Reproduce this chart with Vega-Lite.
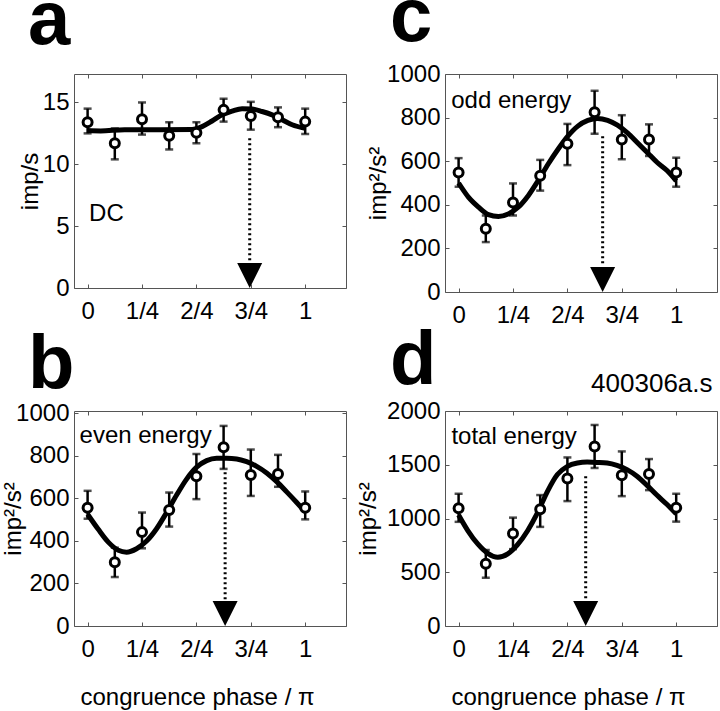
{
  "$schema": "https://vega.github.io/schema/vega-lite/v6.json",
  "padding": {"top": -21, "left": 0, "right": 0, "bottom": 0},
  "background": "white",
  "config": {
    "font": "Liberation Sans",
    "view": {"stroke": "#555", "strokeWidth": 1},
    "axis": {
      "labelFont": "Liberation Sans", "labelFontSize": 24, "labelColor": "black", "format": "d",
      "titleFont": "Liberation Sans", "titleFontSize": 24, "titleFontWeight": "normal", "titleColor": "black",
      "domain": false, "grid": false, "tickColor": "#555", "tickSize": -4, "labelPadding": 9
    },
    "axisX": {"labelPadding": 15},
    "title": {"font": "Liberation Sans", "fontSize": 76, "fontWeight": "bold", "anchor": "start", "frame": "group", "baseline": "alphabetic", "color": "black"}
  },
  "datasets": {
    "a_pts": [
      {"phase": 0, "y": 13.4, "lo": 12.5, "hi": 14.5},
      {"phase": 0.125, "y": 11.7, "lo": 10.4, "hi": 12.9},
      {"phase": 0.25, "y": 13.65, "lo": 12.4, "hi": 15.0},
      {"phase": 0.375, "y": 12.3, "lo": 11.2, "hi": 13.4},
      {"phase": 0.5, "y": 12.55, "lo": 11.7, "hi": 13.4},
      {"phase": 0.625, "y": 14.4, "lo": 13.45, "hi": 15.3},
      {"phase": 0.75, "y": 13.9, "lo": 12.8, "hi": 15.05},
      {"phase": 0.875, "y": 13.8, "lo": 13.0, "hi": 14.6},
      {"phase": 1, "y": 13.45, "lo": 12.45, "hi": 14.5}
    ],
    "a_fit": [
      {"phase": 0, "y": 12.73}, {"phase": 0.06, "y": 12.7}, {"phase": 0.17, "y": 12.8}, {"phase": 0.33, "y": 12.8},
      {"phase": 0.48, "y": 12.82}, {"phase": 0.526, "y": 13.05}, {"phase": 0.572, "y": 13.5}, {"phase": 0.618, "y": 14.0},
      {"phase": 0.664, "y": 14.3}, {"phase": 0.71, "y": 14.5}, {"phase": 0.756, "y": 14.47}, {"phase": 0.802, "y": 14.27},
      {"phase": 0.848, "y": 14.0}, {"phase": 0.894, "y": 13.6}, {"phase": 0.94, "y": 13.2}, {"phase": 1.0, "y": 12.92}
    ],
    "a_arrow": [{"phase": 0.745, "top": 12.1, "bottom": 2.0, "tip": 0}],
    "c_pts": [
      {"phase": 0, "y": 548, "lo": 483, "hi": 614},
      {"phase": 0.125, "y": 290, "lo": 229, "hi": 351},
      {"phase": 0.25, "y": 411, "lo": 351, "hi": 498},
      {"phase": 0.375, "y": 533, "lo": 465, "hi": 606},
      {"phase": 0.5, "y": 680, "lo": 582, "hi": 771},
      {"phase": 0.625, "y": 825, "lo": 726, "hi": 923},
      {"phase": 0.75, "y": 700, "lo": 609, "hi": 811},
      {"phase": 0.875, "y": 700, "lo": 624, "hi": 769},
      {"phase": 1, "y": 548, "lo": 483, "hi": 616}
    ],
    "c_fit": [
      {"phase": 0, "y": 500}, {"phase": 0.046, "y": 434}, {"phase": 0.092, "y": 389}, {"phase": 0.137, "y": 355},
      {"phase": 0.183, "y": 346}, {"phase": 0.228, "y": 358}, {"phase": 0.274, "y": 389}, {"phase": 0.32, "y": 442},
      {"phase": 0.365, "y": 510}, {"phase": 0.411, "y": 586}, {"phase": 0.457, "y": 655}, {"phase": 0.502, "y": 715},
      {"phase": 0.548, "y": 761}, {"phase": 0.594, "y": 787}, {"phase": 0.639, "y": 796}, {"phase": 0.685, "y": 787},
      {"phase": 0.73, "y": 765}, {"phase": 0.776, "y": 730}, {"phase": 0.822, "y": 685}, {"phase": 0.868, "y": 639},
      {"phase": 0.913, "y": 594}, {"phase": 0.959, "y": 556}, {"phase": 1.0, "y": 510}
    ],
    "c_arrow": [{"phase": 0.662, "top": 715, "bottom": 118, "tip": 0}],
    "b_pts": [
      {"phase": 0, "y": 556, "lo": 504, "hi": 635},
      {"phase": 0.125, "y": 299, "lo": 230, "hi": 368},
      {"phase": 0.25, "y": 441, "lo": 365, "hi": 533},
      {"phase": 0.375, "y": 545, "lo": 467, "hi": 627},
      {"phase": 0.5, "y": 703, "lo": 596, "hi": 808},
      {"phase": 0.625, "y": 840, "lo": 738, "hi": 940},
      {"phase": 0.75, "y": 709, "lo": 611, "hi": 829},
      {"phase": 0.875, "y": 714, "lo": 654, "hi": 804},
      {"phase": 1, "y": 556, "lo": 501, "hi": 632}
    ],
    "b_fit": [
      {"phase": 0, "y": 525}, {"phase": 0.049, "y": 454}, {"phase": 0.095, "y": 394}, {"phase": 0.141, "y": 356},
      {"phase": 0.179, "y": 347}, {"phase": 0.225, "y": 363}, {"phase": 0.271, "y": 399}, {"phase": 0.317, "y": 457},
      {"phase": 0.363, "y": 533}, {"phase": 0.409, "y": 615}, {"phase": 0.455, "y": 690}, {"phase": 0.501, "y": 746},
      {"phase": 0.547, "y": 777}, {"phase": 0.593, "y": 788}, {"phase": 0.639, "y": 788}, {"phase": 0.685, "y": 785},
      {"phase": 0.731, "y": 772}, {"phase": 0.777, "y": 750}, {"phase": 0.823, "y": 719}, {"phase": 0.869, "y": 678},
      {"phase": 0.915, "y": 630}, {"phase": 0.961, "y": 580}, {"phase": 1.0, "y": 536}
    ],
    "b_arrow": [{"phase": 0.632, "top": 722, "bottom": 120, "tip": 0}],
    "d_pts": [
      {"phase": 0, "y": 1095, "lo": 969, "hi": 1230},
      {"phase": 0.125, "y": 578, "lo": 449, "hi": 707},
      {"phase": 0.25, "y": 861, "lo": 715, "hi": 1008},
      {"phase": 0.375, "y": 1085, "lo": 922, "hi": 1218},
      {"phase": 0.5, "y": 1372, "lo": 1162, "hi": 1568},
      {"phase": 0.625, "y": 1670, "lo": 1470, "hi": 1870},
      {"phase": 0.75, "y": 1402, "lo": 1208, "hi": 1624},
      {"phase": 0.875, "y": 1414, "lo": 1264, "hi": 1553},
      {"phase": 1, "y": 1101, "lo": 971, "hi": 1230}
    ],
    "d_fit": [
      {"phase": 0, "y": 1033}, {"phase": 0.043, "y": 886}, {"phase": 0.088, "y": 763}, {"phase": 0.134, "y": 676},
      {"phase": 0.18, "y": 639}, {"phase": 0.226, "y": 670}, {"phase": 0.271, "y": 756}, {"phase": 0.317, "y": 886},
      {"phase": 0.363, "y": 1054}, {"phase": 0.409, "y": 1255}, {"phase": 0.454, "y": 1409}, {"phase": 0.5, "y": 1485},
      {"phase": 0.546, "y": 1516}, {"phase": 0.591, "y": 1525}, {"phase": 0.637, "y": 1522}, {"phase": 0.683, "y": 1516},
      {"phase": 0.728, "y": 1494}, {"phase": 0.774, "y": 1455}, {"phase": 0.82, "y": 1393}, {"phase": 0.865, "y": 1310},
      {"phase": 0.911, "y": 1218}, {"phase": 0.957, "y": 1132}, {"phase": 1.0, "y": 1045}
    ],
    "d_arrow": [{"phase": 0.584, "top": 1393, "bottom": 233, "tip": 0}]
  },
  "columns": 2,
  "spacing": {"row": -6, "column": 8},
  "concat": [
    {
      "width": 272, "height": 214,
      "title": {"text": "a", "dx": -46, "offset": 14},
      "resolve": {"axis": {"x": "independent", "y": "independent"}},
      "layer": [
        {"data": {"name": "a_pts"}, "mark": {"type": "rule", "strokeWidth": 2.5, "color": "black"},
         "encoding": {
           "x": {"field": "phase", "type": "quantitative", "scale": {"domain": [-0.0625, 1.1875], "nice": false, "zero": false},
                 "axis": {"values": [0, 0.25, 0.5, 0.75, 1], "labelExpr": "datum.value == 0 ? '0' : datum.value == 1 ? '1' : (datum.value * 4) + '/4'", "title": null}},
           "y": {"field": "lo", "type": "quantitative", "scale": {"domain": [0, 17.3], "nice": false},
                 "axis": {"values": [0, 5, 10, 15], "title": "imp/s", "titleX": -37, "titleAngle": 270, "titleBaseline": "alphabetic"}},
           "y2": {"field": "hi"}}},
        {"data": {"name": "a_pts"}, "mark": {"type": "tick", "orient": "horizontal", "size": 8, "thickness": 2.5, "color": "black"},
         "encoding": {"x": {"field": "phase", "type": "quantitative", "axis": {"orient": "top", "values": [0, 0.25, 0.5, 0.75, 1], "labels": false, "title": null}},
                      "y": {"field": "lo", "type": "quantitative", "axis": {"orient": "right", "values": [0, 5, 10, 15], "labels": false, "title": null}}}},
        {"data": {"name": "a_pts"}, "mark": {"type": "tick", "orient": "horizontal", "size": 8, "thickness": 2.5, "color": "black"},
         "encoding": {"x": {"field": "phase", "type": "quantitative", "axis": null}, "y": {"field": "hi", "type": "quantitative", "axis": null}}},
        {"data": {"name": "a_fit"}, "mark": {"type": "line", "strokeWidth": 5, "color": "black", "interpolate": "monotone"},
         "encoding": {"x": {"field": "phase", "type": "quantitative", "axis": null}, "y": {"field": "y", "type": "quantitative", "axis": null}}},
        {"data": {"name": "a_arrow"}, "mark": {"type": "rule", "strokeWidth": 3, "strokeDash": [2, 3], "color": "black"},
         "encoding": {"x": {"field": "phase", "type": "quantitative", "axis": null}, "y": {"field": "top", "type": "quantitative", "axis": null}, "y2": {"field": "bottom"}}},
        {"data": {"name": "a_arrow"}, "mark": {"type": "point", "shape": "M-1,-1L0,1L1,-1Z", "size": 625, "filled": true, "color": "black", "opacity": 1, "yOffset": -12.5},
         "encoding": {"x": {"field": "phase", "type": "quantitative", "axis": null}, "y": {"field": "tip", "type": "quantitative", "axis": null}}},
        {"data": {"name": "a_pts"}, "mark": {"type": "point", "shape": "circle", "size": 81, "strokeWidth": 3, "stroke": "black", "fill": "white", "filled": false, "opacity": 1},
         "encoding": {"x": {"field": "phase", "type": "quantitative", "axis": null}, "y": {"field": "y", "type": "quantitative", "axis": null}}},
        {"data": {"values": [{}]}, "mark": {"type": "text", "align": "left", "baseline": "alphabetic", "fontSize": 24, "color": "black"},
         "encoding": {"x": {"datum": 0.007, "axis": null}, "y": {"datum": 5.38, "axis": null}, "text": {"value": "DC"}}}
      ]
    },
    {
      "width": 272, "height": 218,
      "title": {"text": "c", "dx": -55, "offset": 5},
      "resolve": {"axis": {"x": "independent", "y": "independent"}},
      "layer": [
        {"data": {"name": "c_pts"}, "mark": {"type": "rule", "strokeWidth": 2.5, "color": "black"},
         "encoding": {
           "x": {"field": "phase", "type": "quantitative", "scale": {"domain": [-0.0625, 1.1875], "nice": false, "zero": false},
                 "axis": {"values": [0, 0.25, 0.5, 0.75, 1], "labelExpr": "datum.value == 0 ? '0' : datum.value == 1 ? '1' : (datum.value * 4) + '/4'", "title": null}},
           "y": {"field": "lo", "type": "quantitative", "scale": {"domain": [0, 1000], "nice": false},
                 "axis": {"values": [0, 200, 400, 600, 800, 1000], "title": "imp²/s²", "titleX": -60, "titleAngle": 270, "titleBaseline": "alphabetic"}},
           "y2": {"field": "hi"}}},
        {"data": {"name": "c_pts"}, "mark": {"type": "tick", "orient": "horizontal", "size": 8, "thickness": 2.5, "color": "black"},
         "encoding": {"x": {"field": "phase", "type": "quantitative", "axis": {"orient": "top", "values": [0, 0.25, 0.5, 0.75, 1], "labels": false, "title": null}},
                      "y": {"field": "lo", "type": "quantitative", "axis": {"orient": "right", "values": [0, 200, 400, 600, 800, 1000], "labels": false, "title": null}}}},
        {"data": {"name": "c_pts"}, "mark": {"type": "tick", "orient": "horizontal", "size": 8, "thickness": 2.5, "color": "black"},
         "encoding": {"x": {"field": "phase", "type": "quantitative", "axis": null}, "y": {"field": "hi", "type": "quantitative", "axis": null}}},
        {"data": {"name": "c_fit"}, "mark": {"type": "line", "strokeWidth": 5, "color": "black", "interpolate": "monotone"},
         "encoding": {"x": {"field": "phase", "type": "quantitative", "axis": null}, "y": {"field": "y", "type": "quantitative", "axis": null}}},
        {"data": {"name": "c_arrow"}, "mark": {"type": "rule", "strokeWidth": 3, "strokeDash": [2, 3], "color": "black"},
         "encoding": {"x": {"field": "phase", "type": "quantitative", "axis": null}, "y": {"field": "top", "type": "quantitative", "axis": null}, "y2": {"field": "bottom"}}},
        {"data": {"name": "c_arrow"}, "mark": {"type": "point", "shape": "M-1,-1L0,1L1,-1Z", "size": 625, "filled": true, "color": "black", "opacity": 1, "yOffset": -12.5},
         "encoding": {"x": {"field": "phase", "type": "quantitative", "axis": null}, "y": {"field": "tip", "type": "quantitative", "axis": null}}},
        {"data": {"name": "c_pts"}, "mark": {"type": "point", "shape": "circle", "size": 81, "strokeWidth": 3, "stroke": "black", "fill": "white", "filled": false, "opacity": 1},
         "encoding": {"x": {"field": "phase", "type": "quantitative", "axis": null}, "y": {"field": "y", "type": "quantitative", "axis": null}}},
        {"data": {"values": [{}]}, "mark": {"type": "text", "align": "left", "baseline": "alphabetic", "fontSize": 24, "color": "black"},
         "encoding": {"x": {"datum": -0.034, "axis": null}, "y": {"datum": 842, "axis": null}, "text": {"value": "odd energy"}}}
      ]
    },
    {
      "width": 272, "height": 215,
      "title": {"text": "b", "dx": -46, "offset": -3},
      "resolve": {"axis": {"x": "independent", "y": "independent"}},
      "layer": [
        {"data": {"name": "b_pts"}, "mark": {"type": "rule", "strokeWidth": 2.5, "color": "black"},
         "encoding": {
           "x": {"field": "phase", "type": "quantitative", "scale": {"domain": [-0.0625, 1.1875], "nice": false, "zero": false},
                 "axis": {"values": [0, 0.25, 0.5, 0.75, 1], "labelExpr": "datum.value == 0 ? '0' : datum.value == 1 ? '1' : (datum.value * 4) + '/4'",
                          "title": "congruence phase / π", "titleX": 123, "titleY": 78, "titleAlign": "center", "titleBaseline": "alphabetic"}},
           "y": {"field": "lo", "type": "quantitative", "scale": {"domain": [0, 1010], "nice": false},
                 "axis": {"values": [0, 200, 400, 600, 800, 1000], "title": "imp²/s²", "titleX": -54, "titleAngle": 270, "titleBaseline": "alphabetic"}},
           "y2": {"field": "hi"}}},
        {"data": {"name": "b_pts"}, "mark": {"type": "tick", "orient": "horizontal", "size": 8, "thickness": 2.5, "color": "black"},
         "encoding": {"x": {"field": "phase", "type": "quantitative", "axis": {"orient": "top", "values": [0, 0.25, 0.5, 0.75, 1], "labels": false, "title": null}},
                      "y": {"field": "lo", "type": "quantitative", "axis": {"orient": "right", "values": [0, 200, 400, 600, 800, 1000], "labels": false, "title": null}}}},
        {"data": {"name": "b_pts"}, "mark": {"type": "tick", "orient": "horizontal", "size": 8, "thickness": 2.5, "color": "black"},
         "encoding": {"x": {"field": "phase", "type": "quantitative", "axis": null}, "y": {"field": "hi", "type": "quantitative", "axis": null}}},
        {"data": {"name": "b_fit"}, "mark": {"type": "line", "strokeWidth": 5, "color": "black", "interpolate": "monotone"},
         "encoding": {"x": {"field": "phase", "type": "quantitative", "axis": null}, "y": {"field": "y", "type": "quantitative", "axis": null}}},
        {"data": {"name": "b_arrow"}, "mark": {"type": "rule", "strokeWidth": 3, "strokeDash": [2, 3], "color": "black"},
         "encoding": {"x": {"field": "phase", "type": "quantitative", "axis": null}, "y": {"field": "top", "type": "quantitative", "axis": null}, "y2": {"field": "bottom"}}},
        {"data": {"name": "b_arrow"}, "mark": {"type": "point", "shape": "M-1,-1L0,1L1,-1Z", "size": 625, "filled": true, "color": "black", "opacity": 1, "yOffset": -12.5},
         "encoding": {"x": {"field": "phase", "type": "quantitative", "axis": null}, "y": {"field": "tip", "type": "quantitative", "axis": null}}},
        {"data": {"name": "b_pts"}, "mark": {"type": "point", "shape": "circle", "size": 81, "strokeWidth": 3, "stroke": "black", "fill": "white", "filled": false, "opacity": 1},
         "encoding": {"x": {"field": "phase", "type": "quantitative", "axis": null}, "y": {"field": "y", "type": "quantitative", "axis": null}}},
        {"data": {"values": [{}]}, "mark": {"type": "text", "align": "left", "baseline": "alphabetic", "fontSize": 24, "color": "black"},
         "encoding": {"x": {"datum": -0.037, "axis": null}, "y": {"datum": 858, "axis": null}, "text": {"value": "even energy"}}}
      ]
    },
    {
      "width": 272, "height": 215,
      "title": {"text": "d", "dx": -55, "offset": -29},
      "resolve": {"axis": {"x": "independent", "y": "independent"}},
      "layer": [
        {"data": {"name": "d_pts"}, "mark": {"type": "rule", "strokeWidth": 2.5, "color": "black"},
         "encoding": {
           "x": {"field": "phase", "type": "quantitative", "scale": {"domain": [-0.0625, 1.1875], "nice": false, "zero": false},
                 "axis": {"values": [0, 0.25, 0.5, 0.75, 1], "labelExpr": "datum.value == 0 ? '0' : datum.value == 1 ? '1' : (datum.value * 4) + '/4'",
                          "title": "congruence phase / π", "titleX": 123, "titleY": 78, "titleAlign": "center", "titleBaseline": "alphabetic"}},
           "y": {"field": "lo", "type": "quantitative", "scale": {"domain": [0, 2000], "nice": false},
                 "axis": {"values": [0, 500, 1000, 1500, 2000], "title": "imp²/s²", "titleX": -70, "titleAngle": 270, "titleBaseline": "alphabetic"}},
           "y2": {"field": "hi"}}},
        {"data": {"name": "d_pts"}, "mark": {"type": "tick", "orient": "horizontal", "size": 8, "thickness": 2.5, "color": "black"},
         "encoding": {"x": {"field": "phase", "type": "quantitative", "axis": {"orient": "top", "values": [0, 0.25, 0.5, 0.75, 1], "labels": false, "title": null}},
                      "y": {"field": "lo", "type": "quantitative", "axis": {"orient": "right", "values": [0, 500, 1000, 1500, 2000], "labels": false, "title": null}}}},
        {"data": {"name": "d_pts"}, "mark": {"type": "tick", "orient": "horizontal", "size": 8, "thickness": 2.5, "color": "black"},
         "encoding": {"x": {"field": "phase", "type": "quantitative", "axis": null}, "y": {"field": "hi", "type": "quantitative", "axis": null}}},
        {"data": {"name": "d_fit"}, "mark": {"type": "line", "strokeWidth": 5, "color": "black", "interpolate": "monotone"},
         "encoding": {"x": {"field": "phase", "type": "quantitative", "axis": null}, "y": {"field": "y", "type": "quantitative", "axis": null}}},
        {"data": {"name": "d_arrow"}, "mark": {"type": "rule", "strokeWidth": 3, "strokeDash": [2, 3], "color": "black"},
         "encoding": {"x": {"field": "phase", "type": "quantitative", "axis": null}, "y": {"field": "top", "type": "quantitative", "axis": null}, "y2": {"field": "bottom"}}},
        {"data": {"name": "d_arrow"}, "mark": {"type": "point", "shape": "M-1,-1L0,1L1,-1Z", "size": 625, "filled": true, "color": "black", "opacity": 1, "yOffset": -12.5},
         "encoding": {"x": {"field": "phase", "type": "quantitative", "axis": null}, "y": {"field": "tip", "type": "quantitative", "axis": null}}},
        {"data": {"name": "d_pts"}, "mark": {"type": "point", "shape": "circle", "size": 81, "strokeWidth": 3, "stroke": "black", "fill": "white", "filled": false, "opacity": 1},
         "encoding": {"x": {"field": "phase", "type": "quantitative", "axis": null}, "y": {"field": "y", "type": "quantitative", "axis": null}}},
        {"data": {"values": [{}]}, "mark": {"type": "text", "align": "left", "baseline": "alphabetic", "fontSize": 24, "color": "black"},
         "encoding": {"x": {"datum": -0.033, "axis": null}, "y": {"datum": 1690, "axis": null}, "text": {"value": "total energy"}}},
        {"data": {"values": [{}]}, "mark": {"type": "text", "align": "right", "baseline": "alphabetic", "fontSize": 26, "color": "black"},
         "encoding": {"x": {"datum": 1.167, "axis": null}, "y": {"datum": 2180, "axis": null}, "text": {"value": "400306a.s"}}}
      ]
    }
  ]
}
